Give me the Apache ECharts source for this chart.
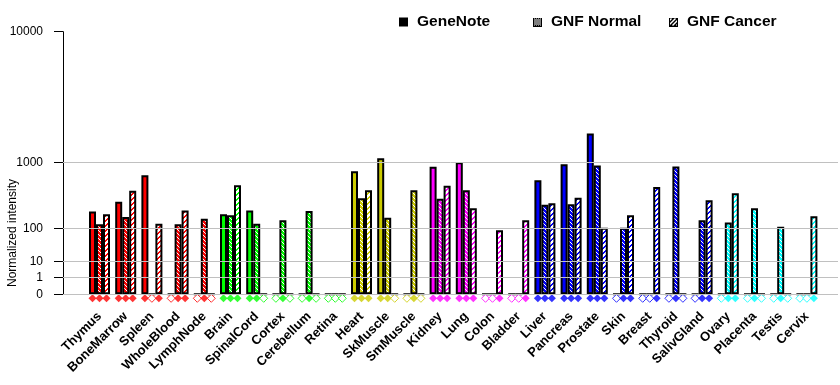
<!DOCTYPE html>
<html><head><meta charset="utf-8">
<script src="https://cdn.jsdelivr.net/npm/echarts@6/dist/echarts.min.js"></script>
<style>html,body{margin:0;padding:0;background:#fff}#c{width:840px;height:385px}</style>
</head><body><div id="c"></div>
<script>
const tissues = ['Thymus','BoneMarrow','Spleen','WholeBlood','LymphNode','Brain','SpinalCord','Cortex','Cerebellum','Retina','Heart','SkMuscle','SmMuscle','Kidney','Lung','Colon','Bladder','Liver','Pancreas','Prostate','Skin','Breast','Thyroid','SalivGland','Ovary','Placenta','Testis','Cervix'];
const geneNote  = [213, 310, 715, 0, 0, 190, 222, 0, 0, 0, 797, 1120, 0, 900, 1010, 0, 0, 620, 960, 1950, 0, 0, 0, 0, 0, 0, 0, 0];
const gnfNormal = [122, 170, 0, 122, 158, 182, 125, 147, 218, 0, 351, 165, 457, 344, 457, 0, 0, 277, 281, 930, 103, 0, 905, 147, 132, 242, 108, 0];
const gnfCancer = [190, 450, 125, 222, 0, 535, 0, 0, 0, 0, 457, 0, 0, 527, 242, 91, 147, 292, 355, 103, 182, 505, 0, 325, 415, 0, 0, 175];
const tissueColors = ['#FF0000','#FF0000','#FF0000','#FF0000','#FF0000',
  '#00FF00','#00FF00','#00FF00','#00FF00','#00FF00',
  '#CCCC00','#CCCC00','#CCCC00',
  '#FF00FF','#FF00FF','#FF00FF','#FF00FF',
  '#0000FF','#0000FF','#0000FF','#0000FF','#0000FF','#0000FF','#0000FF',
  '#00FFFF','#00FFFF','#00FFFF','#00FFFF'];
const seriesNames = ['GeneNote','GNF Normal','GNF Cancer'];
const tickValues = [0, 1, 10, 100, 1000, 10000];
const tickLabels = ['0', '1', '10', '100', '1000', '10000'];

const EXP = 0.3;
const tf = v => Math.pow(v, EXP);
const YMAX = tf(tickValues[tickValues.length - 1]);
const tickPos = tickValues.map(tf);
const FONT = '"Liberation Sans", Arial, sans-serif';

function pattern(color, kind) {
  const n = kind === 'normal' ? 4 : 5;
  const c = document.createElement('canvas'); c.width = n; c.height = n;
  const ctx = c.getContext('2d');
  ctx.fillStyle = kind === 'normal' ? color : '#FFFFFF';
  ctx.fillRect(0, 0, n, n);
  for (let y = 0; y < n; y++) for (let x = 0; x < n; x++) {
    if (kind === 'normal' && x === y) { ctx.fillStyle = '#FFFFFF'; ctx.fillRect(x, y, 1, 1); }
    if (kind === 'cancer' && (x + y) % n < 2) { ctx.fillStyle = color; ctx.fillRect(x, y, 1, 1); }
  }
  return c;
}
const patCache = {};
function fillFor(color, kind) {
  if (kind === 'solid') return color;
  const key = color + kind;
  if (!patCache[key]) patCache[key] = { image: pattern(color, kind), repeat: 'repeat' };
  return patCache[key];
}
function legendIcon(kind) {
  const n = 9;
  const c = document.createElement('canvas'); c.width = n; c.height = n;
  const ctx = c.getContext('2d');
  ctx.fillStyle = '#fff'; ctx.fillRect(0, 0, n, n);
  ctx.fillStyle = '#000';
  for (let y = 0; y < n; y++) for (let x = 0; x < n; x++) {
    if (kind === 'normal' && (x - y + 2 * n) % 4 !== 0 && (x - y + 2 * n) % 4 !== 2) ctx.fillRect(x, y, 1, 1);
    if (kind === 'cancer' && (x + y) % 4 < 2) ctx.fillRect(x, y, 1, 1);
  }
  ctx.strokeStyle = '#000'; ctx.lineWidth = 1; ctx.strokeRect(0.5, 0.5, n - 1, n - 1);
  return 'image://' + c.toDataURL();
}

const kinds = ['solid', 'normal', 'cancer'];
const allValues = [geneNote, gnfNormal, gnfCancer];

const barSeries = allValues.map((arr, k) => ({
  type: 'bar', name: seriesNames[k], xAxisIndex: 1, yAxisIndex: 1,
  barWidth: 7, barGap: '0%', z: 3, silent: true,
  itemStyle: { borderColor: '#000', borderWidth: 2 },
  data: arr.map((v, i) => ({ value: tf(v), itemStyle: { color: fillFor(tissueColors[i], kinds[k]) } }))
}));

const dotSeries = allValues.map((arr, k) => ({
  type: 'scatter', name: 'dots' + k, xAxisIndex: 1, yAxisIndex: 1,
  symbol: 'diamond', symbolSize: 8, symbolOffset: [(k - 1) * 7, 4], clip: false, z: 4, silent: true,
  data: arr.map((v, i) => ({
    value: [i, 0],
    itemStyle: v > 0 ? { color: tissueColors[i], borderColor: tissueColors[i], borderWidth: 0 }
                     : { color: '#FFFFFF', borderColor: tissueColors[i], borderWidth: 1 }
  }))
}));

const gridSeries = {
  type: 'line', xAxisIndex: 0, yAxisIndex: 0, data: [[0, 0]], symbol: 'none', silent: true, z: 1,
  lineStyle: { width: 0 },
  markLine: {
    silent: true, symbol: 'none', animation: false,
    lineStyle: { color: '#C0C0C0', type: 'solid', width: 1 },
    label: { show: false },
    data: tickPos.map(p => ({ yAxis: p }))
  }
};

const legendBase = {
  top: 14, itemWidth: 9, itemHeight: 9, itemGap: 10, padding: 0,
  textStyle: { fontFamily: FONT, fontSize: 15.5, fontWeight: 'bold', color: '#000', padding: [0, 0, 0, 4] },
  selectedMode: false
};

const option = {
  animation: false,
  backgroundColor: '#fff',
  legend: [
    Object.assign({}, legendBase, { left: 399, data: [{ name: 'GeneNote', icon: 'rect', itemStyle: { color: '#000', borderWidth: 0 } }] }),
    Object.assign({}, legendBase, { left: 533, data: [{ name: 'GNF Normal', icon: legendIcon('normal') }] }),
    Object.assign({}, legendBase, { left: 669, data: [{ name: 'GNF Cancer', icon: legendIcon('cancer') }] })
  ],
  grid: [
    { left: 63, right: 2, top: 31.7, bottom: 90.7, containLabel: false },
    { left: 86.4, right: 20, top: 31.7, bottom: 90.7, containLabel: false }
  ],
  xAxis: [
    { type: 'value', gridIndex: 0, min: 0, max: 1, show: false },
    { type: 'category', gridIndex: 1, data: tissues, axisLine: { show: false }, axisTick: { show: false },
      axisLabel: { interval: 0, rotate: 45, margin: 20, fontFamily: FONT, fontSize: 13, fontWeight: 'bold', color: '#000' } }
  ],
  yAxis: [
    { type: 'value', gridIndex: 0, min: 0, max: YMAX,
      axisLine: { show: true, lineStyle: { color: '#000', width: 1 } },
      axisTick: { show: true, length: 9, customValues: tickPos, lineStyle: { color: '#000' } },
      splitLine: { show: false },
      axisLabel: { margin: 20, customValues: tickPos, fontFamily: FONT, fontSize: 12, color: '#000',
        formatter: v => { const i = tickPos.findIndex(p => Math.abs(p - v) < 1e-6); return i >= 0 ? tickLabels[i] : ''; } } },
    { type: 'value', gridIndex: 1, min: 0, max: YMAX, show: false, splitLine: { show: false } }
  ],
  graphic: [{
    type: 'text', x: 13, y: 233, rotation: Math.PI / 2,
    style: { text: 'Normalized intensity', fontFamily: FONT, fontSize: 12, fill: '#000', align: 'center', verticalAlign: 'middle' }
  }],
  series: [gridSeries].concat(barSeries, dotSeries)
};

const chart = echarts.init(document.getElementById('c'), null, { renderer: 'canvas' });
chart.setOption(option);
</script>
</body></html>
